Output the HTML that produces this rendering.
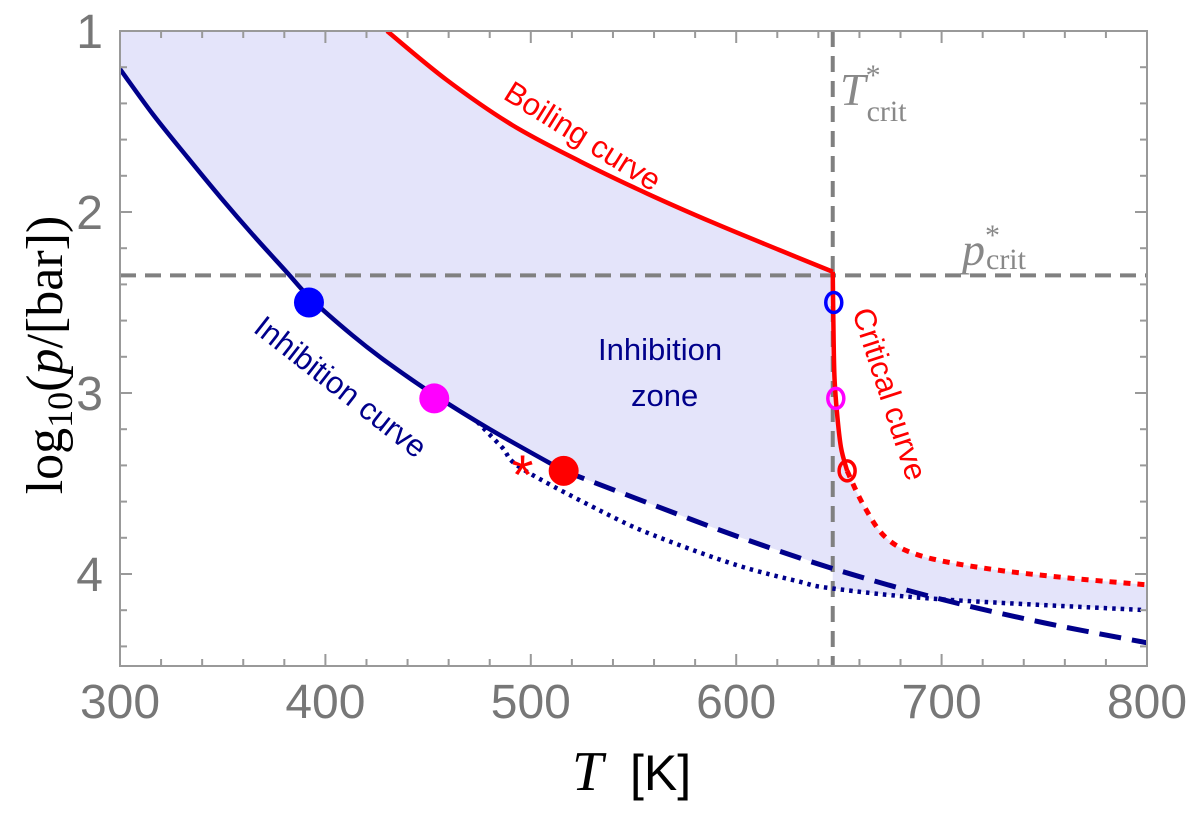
<!DOCTYPE html>
<html><head><meta charset="utf-8"><style>
body{margin:0;background:#fff;width:1200px;height:831px;overflow:hidden}
svg{display:block}
</style></head><body>
<svg id="chart" width="1200" height="831" viewBox="0 0 1200 831" font-family="Liberation Sans, sans-serif">
<defs><clipPath id="clip"><rect x="120" y="31" width="1027" height="635"/></clipPath></defs>
<g id="fills" clip-path="url(#clip)"></g>
<g id="guides"></g>
<g id="series" clip-path="url(#clip)"></g>
<g id="markers"></g>
<g id="frame"></g>
<g id="labels"></g>
</svg>
<script>
const xTicks=[300,400,500,600,700,800];
const yTicks=[1,2,3,4];
const boilT=[430,459,491,524,557,589,621,647];
const boilV=[1.0,1.27,1.52,1.72,1.9,2.06,2.21,2.33];
const inhT=[300,316,333,349,365,381,393,413,430,453,480,516];
const inhV=[1.21,1.46,1.70,1.92,2.13,2.33,2.48,2.68,2.83,3.01,3.2,3.43];
const dashT=[516,560,600,647,700,750,800];
const dashV=[3.43,3.62,3.79,3.97,4.14,4.27,4.38];
const dotT=[474,486,496,539,563,600,630,647,700,800];
const dotV=[3.16,3.3,3.42,3.68,3.8,3.95,4.04,4.08,4.14,4.2];
const critT=[647,647.3,647.8,649,651,654];
const critV=[2.33,2.6,2.9,3.1,3.3,3.43];
const critDotT=[654,662,673,690,722,760,800];
const critDotV=[3.43,3.62,3.8,3.9,3.97,4.02,4.06];
const Tcrit=647, Pcrit=2.35;
const filledT=[392,453,516]; const filledV=[2.5,3.03,3.43]; const filledC=['#0000ff','#ff00ff','#ff0000'];
const openT=[647.5,648.5,654]; const openV=[2.5,3.03,3.43]; const openC=['#0000ff','#ff00ff','#ff0000'];
const starT=[496]; const starV=[3.42];

const X=t=>120+(t-300)*1027/500;
const Y=v=>31+(v-1)*181;
const NS='http://www.w3.org/2000/svg';
function mk(tag,parent,attrs){const e=document.createElementNS(NS,tag);for(const k in attrs)e.setAttribute(k,attrs[k]);document.getElementById(parent).appendChild(e);return e;}
function pts(T,V){return T.map((t,i)=>[X(t),Y(V[i])]);}
function smooth(p){let d='M'+p[0][0]+','+p[0][1];for(let i=0;i<p.length-1;i++){const p0=p[Math.max(0,i-1)],p1=p[i],p2=p[i+1],p3=p[Math.min(p.length-1,i+2)];
const c1=[p1[0]+(p2[0]-p0[0])/6,p1[1]+(p2[1]-p0[1])/6],c2=[p2[0]-(p3[0]-p1[0])/6,p2[1]-(p3[1]-p1[1])/6];d+=' C'+c1+' '+c2+' '+p2;}return d;}
function seg(p){return smooth(p).replace(/^M[^ C]*/,'');}

const bp=pts(boilT,boilV), cp=pts(critT,critV), cdp=pts(critDotT,critDotV);
const ip=pts(inhT,inhV), dp=pts(dashT.filter(t=>t<=Tcrit),dashV.filter((v,i)=>dashT[i]<=Tcrit));
const dotR=pts(dotT.filter(t=>t>=Tcrit),dotV.filter((v,i)=>dotT[i]>=Tcrit));
let fd='M'+X(300)+','+Y(1)+' L'+bp[0]+' '+seg(bp)+' '+seg(cp)+' '+seg(cdp)+' L'+X(800)+','+dotR[dotR.length-1][1];
const dotRrev=dotR.slice().reverse(); fd+=' L'+dotRrev[0]+' '+seg(dotRrev);
const dprev=dp.slice().reverse(); fd+=' L'+dprev[0]+' '+seg(dprev);
const iprev=ip.slice().reverse(); fd+=' '+seg(iprev)+' Z';
const fill=mk('path','fills',{d:fd,fill:'#e4e4fa',stroke:'none'});



const vg=mk('line','guides',{x1:X(Tcrit),x2:X(Tcrit),y1:31,y2:666,stroke:'#808080','stroke-width':4,'stroke-dasharray':'16,9'});


const hg=mk('line','guides',{x1:120,x2:1147,y1:Y(Pcrit),y2:Y(Pcrit),stroke:'#808080','stroke-width':4,'stroke-dasharray':'16,9'});



function line(p,color,dash,name,w){const e=mk('path','series',{d:smooth(p),fill:'none',stroke:color,'stroke-width':w||4.5,'stroke-dasharray':dash||'none'});

}
line(pts(dotT,dotV),'#00008b','3.5,5','inhibition-dotted-curve',4.5);
line(pts(dashT,dashV),'#00008b','22,11','inhibition-dashed-curve',5);
line(ip,'#00008b',null,'inhibition-curve');
line(bp,'#ff0000',null,'boiling-curve');
line(cp,'#ff0000',null,'critical-curve');
line(cdp,'#ff0000','7,7','critical-dotted-curve',5);

filledT.forEach((t,i)=>{const c=mk('circle','markers',{cx:X(t),cy:Y(filledV[i]),r:15,fill:filledC[i]});

});
openT.forEach((t,i)=>{const c=mk('ellipse','markers',{cx:X(t),cy:Y(openV[i]),rx:8,ry:10,fill:'none',stroke:openC[i],'stroke-width':3.5});

});
starT.forEach((t,i)=>{const s=mk('text','markers',{x:X(t),y:Y(starV[i])+25,'text-anchor':'middle','font-size':56,fill:'#ff0000','font-family':'Liberation Sans, sans-serif'});s.textContent='*';

});

const fr=mk('rect','frame',{x:120,y:31,width:1027,height:635,fill:'none',stroke:'#999','stroke-width':2});


for(let t=300;t<=800;t+=20){const maj=t%100===0,L=maj?12:7;
mk('line','frame',{x1:X(t),x2:X(t),y1:666,y2:666-L,stroke:'#999','stroke-width':2});
mk('line','frame',{x1:X(t),x2:X(t),y1:31,y2:31+L,stroke:'#999','stroke-width':2});}
for(let v=1;v<=4.5001;v+=0.2){const maj=Math.abs(v-Math.round(v))<0.01,L=maj?12:7;
mk('line','frame',{x1:120,x2:120+L,y1:Y(v),y2:Y(v),stroke:'#999','stroke-width':2});
mk('line','frame',{x1:1147,x2:1147-L,y1:Y(v),y2:Y(v),stroke:'#999','stroke-width':2});}
xTicks.forEach(t=>{const e=mk('text','labels',{x:X(t),y:718,'text-anchor':'middle','font-size':48,fill:'#777'});e.textContent=t;

});
yTicks.forEach(v=>{const e=mk('text','labels',{x:103,y:Y(v)+17,'text-anchor':'end','font-size':48,fill:'#777'});e.textContent=v;

});
</script>
<svg style="position:absolute;left:0;top:0" width="1200" height="831" font-family="Liberation Sans, sans-serif">
<text x="572" y="790" font-family="Liberation Serif, serif" font-style="italic" font-size="56" fill="#000">T</text>
<text x="630" y="790" font-family="Liberation Sans, sans-serif" font-size="50" fill="#000">[K]</text>
<text transform="translate(62,355) rotate(-90)" text-anchor="middle" font-family="Liberation Serif, serif" font-size="52" fill="#000">log<tspan font-size="36" dy="10">10</tspan><tspan dy="-10">(</tspan><tspan font-style="italic">p</tspan>/[bar])</text>
<text transform="translate(502,98) rotate(32)" font-size="31" fill="#ff0000">Boiling curve</text>
<text transform="translate(252,331) rotate(38)" font-size="31" fill="#00008b">Inhibition curve</text>
<text x="598" y="360" font-size="31" fill="#00008b">Inhibition</text>
<text x="631" y="406" font-size="31" fill="#00008b">zone</text>
<text transform="translate(852,312) rotate(72)" font-size="31" fill="#ff0000">Critical curve</text>
<text x="840" y="105" font-family="Liberation Serif, serif" font-size="46" fill="#888"><tspan font-style="italic">T</tspan><tspan font-size="30" dy="-20">*</tspan><tspan font-size="30" dx="-14" dy="36">crit</tspan></text>
<text x="962" y="265" font-family="Liberation Serif, serif" font-size="46" fill="#888"><tspan font-style="italic">p</tspan><tspan font-size="30" dy="-20">*</tspan><tspan font-size="30" dx="-14" dy="24">crit</tspan></text>
</svg>
</body></html>
